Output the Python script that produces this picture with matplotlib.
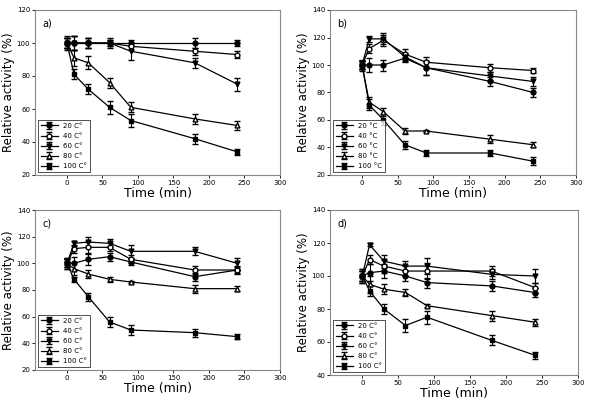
import matplotlib
matplotlib.use("Agg")
import matplotlib.pyplot as plt

time = [0, 10, 30, 60, 90, 180, 240]
temps_a = ["20 C°", "40 C°", "60 C°", "80 C°", "100 C°"]
temps_b = ["20 °C", "40 °C", "60 °C", "80 °C", "100 °C"]

a_vals = [[100, 100, 100, 100, 100, 100, 100],
          [100, 100, 100, 100, 98, 95, 93],
          [100, 100, 100, 100, 95, 88, 75],
          [100, 91, 88, 76, 61, 54, 50],
          [100, 81, 72, 61, 53, 42, 34]]
a_err = [[3, 4, 3, 3, 2, 3, 2], [3, 4, 3, 2, 2, 2, 2], [3, 4, 3, 2, 5, 3, 4],
         [4, 5, 4, 3, 3, 3, 3], [3, 3, 3, 4, 4, 3, 2]]
b_vals = [[100, 100, 100, 105, 98, 88, 80],
          [100, 112, 118, 108, 102, 98, 96],
          [100, 119, 119, 106, 98, 92, 88],
          [100, 73, 66, 52, 52, 46, 42],
          [100, 71, 60, 42, 36, 36, 30]]
b_err = [[4, 5, 4, 3, 5, 3, 3], [3, 3, 4, 4, 4, 3, 2], [3, 2, 4, 3, 5, 3, 3],
         [3, 4, 3, 2, 1, 3, 2], [3, 4, 4, 3, 2, 2, 3]]
c_vals = [[100, 100, 103, 105, 101, 90, 95],
          [100, 111, 112, 112, 103, 95, 95],
          [100, 115, 116, 115, 109, 109, 100],
          [100, 96, 92, 88, 86, 81, 81],
          [100, 88, 75, 56, 50, 48, 45]]
c_err = [[4, 5, 4, 3, 2, 3, 2], [3, 3, 4, 3, 3, 3, 3], [3, 2, 4, 3, 5, 3, 4],
         [4, 5, 3, 2, 1, 3, 2], [3, 2, 3, 4, 4, 3, 2]]
d_vals = [[100, 102, 103, 100, 96, 94, 90],
          [100, 110, 106, 103, 103, 103, 93],
          [100, 119, 109, 106, 106, 101, 100],
          [100, 95, 92, 90, 82, 76, 72],
          [100, 91, 80, 70, 75, 61, 52]]
d_err = [[4, 5, 4, 3, 3, 3, 3], [3, 3, 4, 3, 5, 3, 3], [3, 1, 4, 3, 5, 3, 4],
         [4, 5, 3, 2, 1, 3, 2], [3, 3, 3, 4, 4, 3, 2]]

markers = ["o", "o", "v", "^", "s"]
faces = ["black", "white", "black", "white", "black"]

fig = plt.figure(figsize=(5.89, 4.04), dpi=100)
W, H = 589, 404
panels = [
    ("a)", a_vals, a_err, temps_a, (20, 120), (35, 10, 280, 175)),
    ("b)", b_vals, b_err, temps_b, (20, 140), (330, 10, 576, 175)),
    ("c)", c_vals, c_err, temps_a, (20, 140), (35, 210, 280, 370)),
    ("d)", d_vals, d_err, temps_a, (40, 140), (330, 210, 578, 375)),
]
for lab, vals, errs, names, yl, (x0, y0, x1, y1) in panels:
    ax = fig.add_axes([x0 / W, 1 - y1 / H, (x1 - x0) / W, (y1 - y0) / H])
    for v, e, n, m, f in zip(vals, errs, names, markers, faces):
        ax.errorbar(time, v, yerr=e, marker=m, color="black", mfc=f, mec="black",
                    ms=3.5, lw=0.9, elinewidth=0.8, capsize=2.5, label=n)
    ax.set_xlim(-45, 300)
    ax.set_ylim(*yl)
    ax.set_xticks([0, 50, 100, 150, 200, 250, 300])
    ax.set_yticks(range(yl[0], yl[1] + 1, 20))
    ax.tick_params(labelsize=5, length=2, width=0.6, pad=1.5)
    for s in ax.spines.values():
        s.set_color("#888888")
    ax.set_xlabel("Time (min)", fontsize=9, labelpad=1)
    ax.set_ylabel("Relative activity (%)", fontsize=8.5, labelpad=1)
    ax.text(0.03, 0.95, lab, transform=ax.transAxes, fontsize=7, va="top")
    ax.legend(loc="lower left", fontsize=5, frameon=True, fancybox=False,
              edgecolor="black", handlelength=2.5, borderaxespad=0.4,
              labelspacing=0.6).get_frame().set_linewidth(0.6)

fig.savefig("out.png", dpi=100)
